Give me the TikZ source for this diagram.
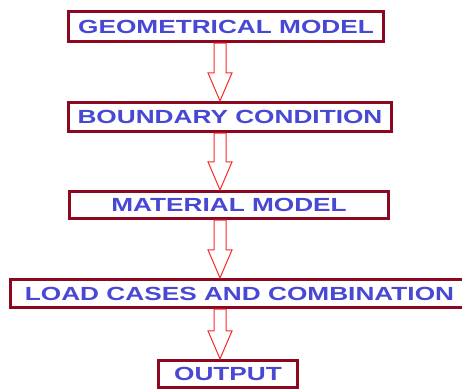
\documentclass[tikz,border=0pt]{standalone}
\usepackage{fontspec}
\usepackage{tikz}
\usetikzlibrary{calc}
\newfontfamily\boxfont[FakeStretch=1.38]{Liberation Sans}
\definecolor{boxred}{RGB}{139, 8, 32}
\definecolor{boxblue}{RGB}{72, 72, 212}
\definecolor{arrred}{RGB}{250, 40, 40}
\tikzstyle{stage} = [rectangle, draw=boxred, line width=3.2pt, fill=white, text=boxblue, font=\boxfont\bfseries\fontsize{19}{21}\selectfont, inner sep=0pt, anchor=center]
\tikzstyle{blockarr} = [draw=arrred, line width=1pt, fill=white, line join=miter]

% hollow block arrow from one stage down to the next
\newcommand{\flowarrow}[2]{%
  \path[blockarr] let \p1=(#1.south), \p2=(#2.north), \p3=(axis) in
    (\x3-6pt,\y1) -- (\x3+6pt,\y1) -- (\x3+6pt,\y2+28pt) -- (\x3+12pt,\y2+28pt)
    -- (\x3,\y2) -- (\x3-12pt,\y2+28pt) -- (\x3-6pt,\y2+28pt) -- cycle;
}

\begin{document}
\begin{tikzpicture}[x=1pt, y=1pt]
\useasboundingbox (0,0) rectangle (462,389);

\coordinate (axis) at (220,0);

% stages =============================
\node[stage, minimum width=315pt, minimum height=30pt] (geom) at (226,362.5) {GEOMETRICAL MODEL};
\node[stage, minimum width=323pt, minimum height=29pt] (bound) at (230,272) {BOUNDARY CONDITION};
\node[stage, minimum width=319pt, minimum height=27pt] (mat) at (229,184) {MATERIAL MODEL};
\node[stage, minimum width=458pt, minimum height=28pt] (load) at (239.5,95.5) {LOAD CASES AND COMBINATION};
\node[stage, minimum width=139pt, minimum height=27pt] (out) at (228,15) {OUTPUT};

% arrows =============================
\flowarrow{geom}{bound}
\flowarrow{bound}{mat}
\flowarrow{mat}{load}
\flowarrow{load}{out}

\end{tikzpicture}
\end{document}
